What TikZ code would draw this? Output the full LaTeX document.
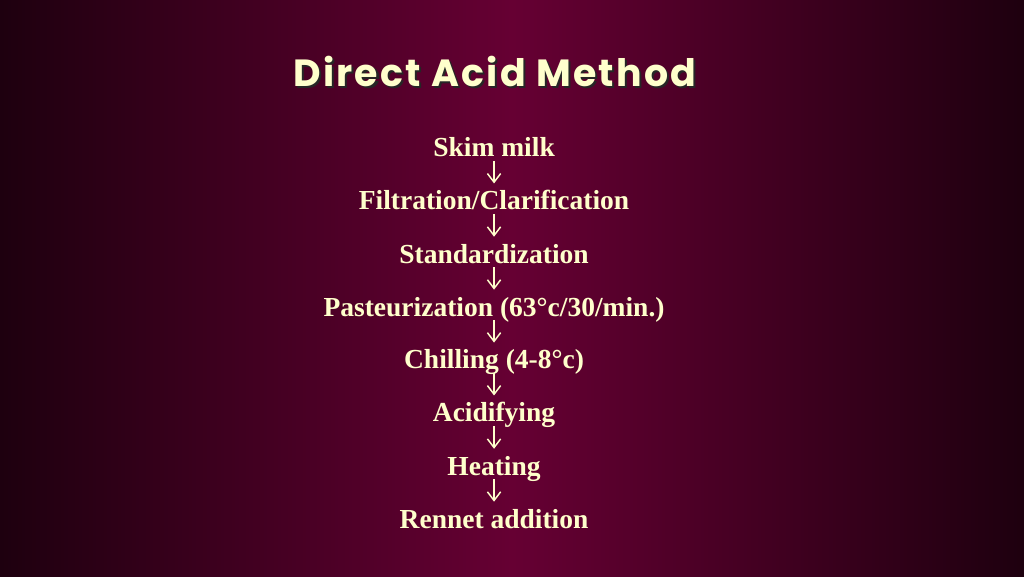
\documentclass[tikz,border=0pt]{standalone}
\usepackage{fontspec}
\setmainfont{Liberation Serif}
\newfontfamily\titlefont[LetterSpace=6]{Poppins}
\usetikzlibrary{arrows.meta}
\definecolor{slideedge}{HTML}{1E000F}
\definecolor{slidemid}{HTML}{660033}
\definecolor{cream}{HTML}{FFFFCC}
% text with a dark drop shadow behind it
\newcommand{\shadowed}[1]{%
  \makebox[0pt][l]{\kern1.6pt\raisebox{-1.6pt}{\color{black!85}#1}}#1}
\begin{document}
\begin{tikzpicture}[
    step box/.style = {text = cream, font = \fontsize{20.7}{24}\selectfont\bfseries,
                       inner sep = 0pt, anchor = base,
                       text height = 0.69cm, text depth = 0.1cm},
    flow/.style     = {cream, line width = 1.1pt,
                       -{Straight Barb[length = 2.3mm, width = 3.5mm]}},
    heading/.style  = {text = cream, font = \titlefont\fontsize{28.5}{32}\selectfont\bfseries,
                       inner sep = 0pt, anchor = base}
  ]
  \shade[left color = slideedge, right color = slideedge, middle color = slidemid]
    (0, 0) rectangle (27.09, 15.24);
  \useasboundingbox (0, 0) rectangle (27.09, 15.24);
  \node[heading] (title) at (13.09, 12.96) {\shadowed{Direct Acid Method}};
  % the steps
  \node[step box] (skim)   at (13.07, 11.09) {Skim milk};
  \node[step box] (filter) at (13.07, 9.69)  {Filtration/Clarification};
  \node[step box] (stand)  at (13.07, 8.28)  {Standardization};
  \node[step box] (past)   at (13.07, 6.88)  {Pasteurization (63°c/30/min.)};
  \node[step box] (chill)  at (13.07, 5.48)  {Chilling (4-8°c)};
  \node[step box] (acid)   at (13.07, 4.08)  {Acidifying};
  \node[step box] (heat)   at (13.07, 2.67)  {Heating};
  \node[step box] (rennet) at (13.07, 1.27)  {Rennet addition};
  \foreach \a/\b in {skim/filter, filter/stand, stand/past, past/chill,
                     chill/acid, acid/heat, heat/rennet}
    \draw[flow] (\a.south) -- (\b.north);
\end{tikzpicture}
\end{document}
